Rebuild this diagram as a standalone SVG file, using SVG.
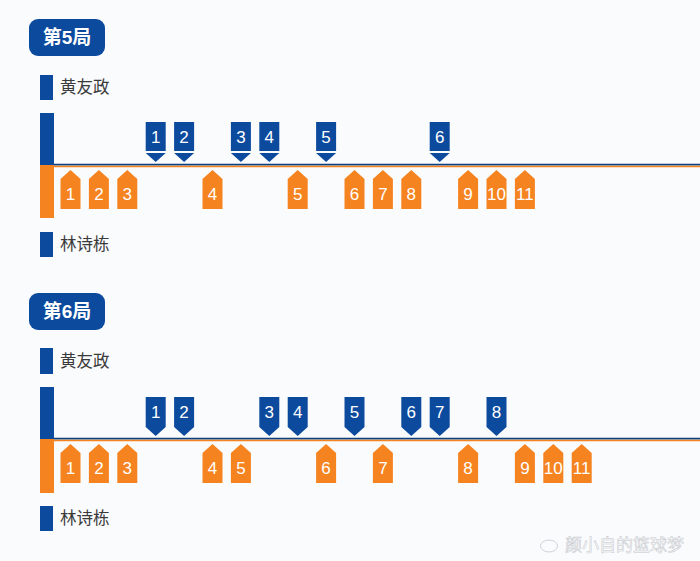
<svg xmlns="http://www.w3.org/2000/svg" xmlns:xlink="http://www.w3.org/1999/xlink" width="700" height="561" viewBox="0 0 700 561">
<style>
.blue{fill:#0c4a9e}
.orange{fill:#f5831f}
.num{font-family:"Liberation Sans",Arial,sans-serif;font-size:17px;fill:#fff;text-anchor:middle}
.title{font-family:"Liberation Sans","Noto Sans CJK SC",sans-serif;font-size:19px;font-weight:bold;fill:#fff;text-anchor:middle}
.name{font-family:"Noto Sans CJK SC",sans-serif;font-size:16.5px;fill:#3a3a3a}
.wm{font-family:"Noto Sans CJK SC",sans-serif;font-size:17px;fill:#fdfdfd;stroke:#c4c7cc;stroke-width:0.5}
</style>
<defs>
<g id="flag">
<rect x="-10" y="-43" width="20" height="29" class="blue"/>
<polygon points="-10,-12 10,-12 0,-3" class="blue"/>
</g>
<polygon id="bpent" points="-10,-42 10,-42 10,-12 0,-3 -10,-12" class="blue"/>
<polygon id="opent" points="0,5 10,14 10,44 -10,44 -10,14" class="orange"/>
</defs>
<rect width="700" height="561" fill="#fafbfd"/>

<!-- Game 5 -->
<g id="title5"><rect x="29" y="19" width="76" height="37" rx="9" class="blue"/><text x="67" y="44" class="title">第5局</text></g>
<g id="p1-g5"><rect x="40" y="75" width="13" height="25" class="blue"/><text x="60" y="93" class="name">黄友政</text></g>
<g id="p2-g5"><rect x="40" y="232" width="13" height="25" class="blue"/><text x="60" y="250" class="name">林诗栋</text></g>
<g id="axis5">
<rect x="40" y="113" width="14" height="52" class="blue"/>
<rect x="40" y="165" width="14" height="53" class="orange"/>
</g>
<g id="connectors5">
<line x1="54" y1="164.6" x2="700" y2="164.6" stroke="#0c3f7e" stroke-width="1.8"/>
<line x1="54" y1="166.5" x2="700" y2="166.5" stroke="#f5831f" stroke-width="1.6"/>
</g>
<g id="g5-b1" transform="translate(155.7,165)"><use href="#flag"/><text y="-22.5" class="num">1</text></g>
<g id="g5-b2" transform="translate(184.1,165)"><use href="#flag"/><text y="-22.5" class="num">2</text></g>
<g id="g5-b3" transform="translate(240.9,165)"><use href="#flag"/><text y="-22.5" class="num">3</text></g>
<g id="g5-b4" transform="translate(269.3,165)"><use href="#flag"/><text y="-22.5" class="num">4</text></g>
<g id="g5-b5" transform="translate(326.1,165)"><use href="#flag"/><text y="-22.5" class="num">5</text></g>
<g id="g5-b6" transform="translate(439.7,165)"><use href="#flag"/><text y="-22.5" class="num">6</text></g>
<g id="g5-o1" transform="translate(70.5,165)"><use href="#opent"/><text y="35" class="num">1</text></g>
<g id="g5-o2" transform="translate(98.9,165)"><use href="#opent"/><text y="35" class="num">2</text></g>
<g id="g5-o3" transform="translate(127.3,165)"><use href="#opent"/><text y="35" class="num">3</text></g>
<g id="g5-o4" transform="translate(212.5,165)"><use href="#opent"/><text y="35" class="num">4</text></g>
<g id="g5-o5" transform="translate(297.7,165)"><use href="#opent"/><text y="35" class="num">5</text></g>
<g id="g5-o6" transform="translate(354.5,165)"><use href="#opent"/><text y="35" class="num">6</text></g>
<g id="g5-o7" transform="translate(382.9,165)"><use href="#opent"/><text y="35" class="num">7</text></g>
<g id="g5-o8" transform="translate(411.3,165)"><use href="#opent"/><text y="35" class="num">8</text></g>
<g id="g5-o9" transform="translate(468.1,165)"><use href="#opent"/><text y="35" class="num">9</text></g>
<g id="g5-o10" transform="translate(496.5,165)"><use href="#opent"/><text y="35" class="num" font-size="16">10</text></g>
<g id="g5-o11" transform="translate(524.9,165)"><use href="#opent"/><text y="35" class="num" font-size="16">11</text></g>

<!-- Game 6 -->
<g id="title6"><rect x="29" y="293" width="76" height="37" rx="9" class="blue"/><text x="67" y="318" class="title">第6局</text></g>
<g id="p1-g6"><rect x="40" y="348" width="13" height="26" class="blue"/><text x="60" y="367" class="name">黄友政</text></g>
<g id="p2-g6"><rect x="40" y="506" width="13" height="25" class="blue"/><text x="60" y="524" class="name">林诗栋</text></g>
<g id="axis6">
<rect x="40" y="387" width="14" height="52" class="blue"/>
<rect x="40" y="439" width="14" height="54" class="orange"/>
</g>
<g id="connectors6">
<line x1="54" y1="438.6" x2="700" y2="438.6" stroke="#0c3f7e" stroke-width="1.8"/>
<line x1="54" y1="440.5" x2="700" y2="440.5" stroke="#f5831f" stroke-width="1.6"/>
</g>
<g id="g6-b1" transform="translate(155.7,439)"><use href="#bpent"/><text y="-21.5" class="num">1</text></g>
<g id="g6-b2" transform="translate(184.1,439)"><use href="#bpent"/><text y="-21.5" class="num">2</text></g>
<g id="g6-b3" transform="translate(269.3,439)"><use href="#bpent"/><text y="-21.5" class="num">3</text></g>
<g id="g6-b4" transform="translate(297.7,439)"><use href="#bpent"/><text y="-21.5" class="num">4</text></g>
<g id="g6-b5" transform="translate(354.5,439)"><use href="#bpent"/><text y="-21.5" class="num">5</text></g>
<g id="g6-b6" transform="translate(411.3,439)"><use href="#bpent"/><text y="-21.5" class="num">6</text></g>
<g id="g6-b7" transform="translate(439.7,439)"><use href="#bpent"/><text y="-21.5" class="num">7</text></g>
<g id="g6-b8" transform="translate(496.5,439)"><use href="#bpent"/><text y="-21.5" class="num">8</text></g>
<g id="g6-o1" transform="translate(70.5,439)"><use href="#opent"/><text y="35" class="num">1</text></g>
<g id="g6-o2" transform="translate(98.9,439)"><use href="#opent"/><text y="35" class="num">2</text></g>
<g id="g6-o3" transform="translate(127.3,439)"><use href="#opent"/><text y="35" class="num">3</text></g>
<g id="g6-o4" transform="translate(212.5,439)"><use href="#opent"/><text y="35" class="num">4</text></g>
<g id="g6-o5" transform="translate(240.9,439)"><use href="#opent"/><text y="35" class="num">5</text></g>
<g id="g6-o6" transform="translate(326.1,439)"><use href="#opent"/><text y="35" class="num">6</text></g>
<g id="g6-o7" transform="translate(382.9,439)"><use href="#opent"/><text y="35" class="num">7</text></g>
<g id="g6-o8" transform="translate(468.1,439)"><use href="#opent"/><text y="35" class="num">8</text></g>
<g id="g6-o9" transform="translate(524.9,439)"><use href="#opent"/><text y="35" class="num">9</text></g>
<g id="g6-o10" transform="translate(553.3,439)"><use href="#opent"/><text y="35" class="num" font-size="16">10</text></g>
<g id="g6-o11" transform="translate(581.7,439)"><use href="#opent"/><text y="35" class="num" font-size="16">11</text></g>

<g id="watermark">
<ellipse cx="549" cy="546" rx="8.5" ry="6" fill="none" stroke="#c4c7cc" stroke-width="0.8"/>
<text x="565" y="551" class="wm">颜小自的篮球梦</text>
</g>
</svg>
